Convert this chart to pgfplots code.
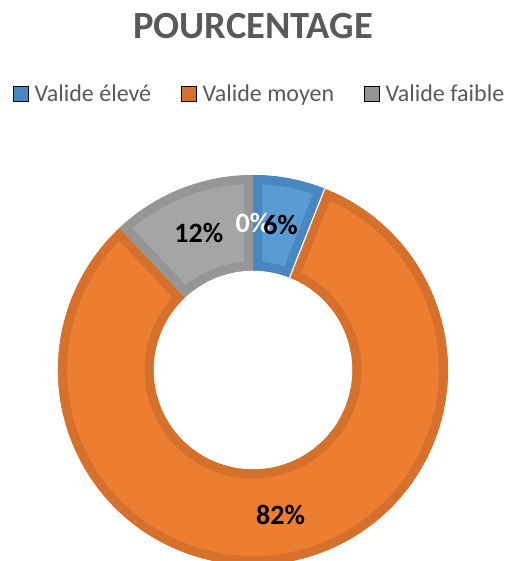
\documentclass[border=0pt]{standalone}
\usepackage{fontspec}
\setmainfont{Carlito}
\usepackage{pgfplots}
\usepackage{pgfplotstable}
\pgfplotsset{compat=1.18}

\definecolor{blueL}{HTML}{5B9BD5}
\definecolor{blueD}{HTML}{4A86C0}
\definecolor{orangeL}{HTML}{ED7D31}
\definecolor{orangeD}{HTML}{D5712C}
\definecolor{grayL}{HTML}{A5A5A5}
\definecolor{grayD}{HTML}{969696}
\definecolor{txt}{HTML}{595959}

% share of each category (per cent), clockwise from the top
\pgfplotstableread{
pct
6
82
12
0
}\datatable

\def\rin{0.51}
\def\rmid{0.755}
\newcommand\ringpath[2]{(axis cs:{cos(#1)},{sin(#1)}) arc[start angle=#1, end angle=#2, radius=1] -- (axis cs:{\rin*cos(#2)},{\rin*sin(#2)}) arc[start angle=#2, end angle=#1, radius=\rin] -- cycle}
\newcommand\sector[4]{%
  \begin{scope}
    \clip \ringpath{#1}{#2};
    \fill[#3] \ringpath{#1}{#2};
    \draw[#4, line width=18pt] \ringpath{#1}{#2};
  \end{scope}
}

\begin{document}
\begin{tikzpicture}
\pgfplotstablegetelem{0}{pct}\of\datatable \edef\pA{\pgfplotsretval}
\pgfplotstablegetelem{1}{pct}\of\datatable \edef\pB{\pgfplotsretval}
\pgfplotstablegetelem{2}{pct}\of\datatable \edef\pC{\pgfplotsretval}
\pgfplotstablegetelem{3}{pct}\of\datatable \edef\pD{\pgfplotsretval}
\pgfmathsetmacro\sA{90}
\pgfmathsetmacro\eA{\sA-3.6*\pA}
\pgfmathsetmacro\eB{\eA-3.6*\pB}
\pgfmathsetmacro\eC{\eB-3.6*\pC}
\pgfmathsetmacro\eD{\eC-3.6*\pD}
\useasboundingbox (0,0) rectangle (506pt,561pt);
\clip (0,0) rectangle (506pt,561pt);
\begin{axis}[
  at={(253pt,191pt)}, anchor=origin,
  scale only axis, width=390pt, height=390pt,
  xmin=-1, xmax=1, ymin=-1, ymax=1,
  axis lines=none, clip=false,
  title={POURCENTAGE},
  title style={font=\bfseries\fontsize{38.5}{42}\selectfont, text=txt, at={(0.5,1.334)}, anchor=base},
  legend columns=-1,
  legend style={at={(-0.1154,1.207)}, anchor=west, draw=none, fill=none, inner sep=0pt,
    font=\fontsize{24}{27}\selectfont, text=txt,
    nodes={inner sep=0pt},
    /tikz/every odd column/.append style={column sep=6pt},
    /tikz/every even column/.append style={column sep=30pt}},
  legend image code/.code={\fill[#1] (0pt,-6.5pt) rectangle (15pt,8.5pt);},
]
\addlegendimage{fill=blueD}
\addlegendentry{Valide élevé}
\addlegendimage{fill=orangeD}
\addlegendentry{Valide moyen}
\addlegendimage{fill=grayD}
\addlegendentry{Valide faible}

\sector{\sA}{\eA}{blueL}{blueD}
\sector{\eA}{\eB}{orangeL}{orangeD}
\sector{\eB}{\eC}{grayL}{grayD}
\draw[white, line width=1.2pt] (axis cs:{cos(\eA)},{sin(\eA)}) -- (axis cs:{\rin*cos(\eA)},{\rin*sin(\eA)});

\node[font=\bfseries\fontsize{28}{30}\selectfont, text=white] at (axis cs:{\rmid*cos((\eC+\eD)/2)},{\rmid*sin((\eC+\eD)/2)}) {\pD\%};
\node[font=\bfseries\fontsize{28}{30}\selectfont] at (axis cs:{\rmid*cos((\sA+\eA)/2)},{\rmid*sin((\sA+\eA)/2)}) {\pA\%};
\node[font=\bfseries\fontsize{28}{30}\selectfont] at (axis cs:{\rmid*cos((\eA+\eB)/2)},{\rmid*sin((\eA+\eB)/2)}) {\pB\%};
\node[font=\bfseries\fontsize{28}{30}\selectfont] at (axis cs:{\rmid*cos((\eB+\eC)/2)},{\rmid*sin((\eB+\eC)/2)}) {\pC\%};
\end{axis}
\end{tikzpicture}
\end{document}
